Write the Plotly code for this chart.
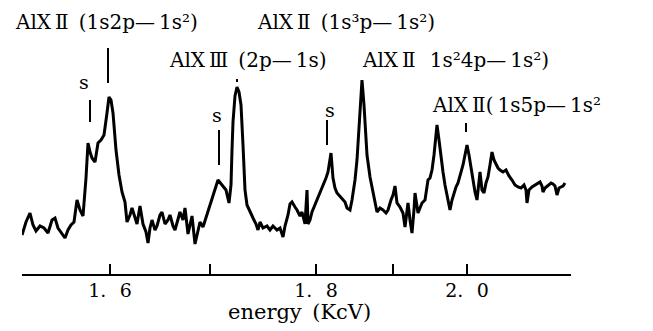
import plotly.graph_objects as go

# Spectrum: scan position (along dispersion) vs relative intensity (a.u.)
scan_pos = [22, 26, 30, 33, 36, 40, 44, 48, 52, 55, 58, 62, 65, 68, 71, 74, 77, 80, 83, 86,
            88, 90, 92, 95, 98, 101, 104, 107, 109, 111, 113, 116, 119, 122, 125, 127, 130, 132, 135, 137,
            140, 143, 146, 148, 150, 152, 155, 157, 160, 162, 165, 168, 170, 173, 175, 178, 180, 183, 185, 188,
            190, 192, 195, 198, 200, 203, 206, 210, 214, 218, 222, 226, 229, 231, 232, 233, 235, 237, 239, 241,
            243, 245, 247, 250, 253, 256, 258, 260, 263, 267, 270, 273, 277, 280, 283, 285, 288, 290, 292, 295,
            297, 300, 302, 305, 307, 308, 310, 312, 315, 318, 321, 323, 326, 328, 331, 333, 335, 337, 340, 342,
            345, 347, 350, 352, 355, 357, 359, 361, 362, 364, 365, 367, 370, 373, 375, 377, 380, 383, 386, 388,
            391, 393, 395, 397, 400, 403, 405, 407, 408, 410, 412, 414, 415, 418, 420, 422, 425, 427, 428, 430,
            432, 434, 436, 437, 439, 441, 443, 445, 447, 450, 452, 454, 456, 458, 460, 463, 465, 467, 469, 471,
            473, 475, 477, 479, 480, 482, 484, 486, 488, 490, 492, 494, 496, 498, 500, 503, 506, 509, 512, 515,
            518, 521, 524, 526, 527, 529, 532, 535, 538, 540, 542, 543, 545, 548, 551, 553, 555, 557, 559, 561,
            563, 565]
intensity = [39, 52, 61, 49, 43, 48, 46, 41, 54, 56, 46, 40, 36, 44, 49, 52, 74, 64, 58, 96,
             131, 122, 116, 112, 131, 134, 139, 161, 177, 174, 161, 124, 99, 82, 72, 52, 59, 66, 56, 50,
             68, 50, 42, 31, 46, 54, 44, 48, 59, 62, 50, 54, 59, 48, 44, 54, 62, 54, 66, 40,
             48, 58, 30, 44, 52, 47, 56, 69, 82, 94, 89, 84, 71, 89, 124, 152, 178, 187, 182, 169,
             129, 84, 69, 62, 56, 50, 44, 52, 46, 48, 44, 48, 44, 46, 37, 48, 59, 70, 72, 67,
             64, 58, 62, 50, 84, 50, 54, 62, 69, 77, 84, 88, 96, 102, 121, 96, 86, 81, 78, 76,
             72, 66, 64, 74, 94, 114, 144, 179, 194, 169, 154, 119, 97, 82, 74, 62, 66, 64, 61, 64,
             74, 79, 88, 71, 67, 61, 47, 64, 71, 54, 41, 64, 81, 61, 66, 71, 74, 86, 94, 96,
             104, 119, 136, 149, 134, 116, 102, 89, 79, 64, 74, 81, 87, 91, 98, 109, 119, 129, 119, 106,
             91, 82, 74, 94, 102, 84, 81, 91, 97, 109, 122, 114, 109, 106, 104, 102, 104, 98, 94, 89,
             87, 86, 89, 84, 71, 84, 87, 89, 91, 92, 88, 82, 86, 89, 91, 90, 88, 79, 86, 87,
             88, 91]

# Energy scale (keV) and where it falls on the scan
tick_pos = [110, 210, 316, 393, 467]
tick_text = ["1.\u2002\u20096", "", "1.\u2002\u20098", "", "2.\u2002\u20090"]

# Line-identification markers (scan position, top, bottom intensity)
id_pos = [90, 108, 219, 327, 466, 237]
id_top = [174, 226, 144, 154, 151, 195]
id_bot = [152, 191, 109, 129, 142, 192]

# Line labels (scan position of left edge, intensity level of text centre)
labels = ["AlX\u2009Ⅱ\u2002(1s2p—\u20091s²)",
          "AlX\u2009Ⅱ\u2002(1s³p—\u20091s²)",
          "AlX\u2009Ⅲ\u2002(2p—\u20091s)",
          "AlX\u2009Ⅱ\u2002\u20091s²4p—\u20091s²)",
          "AlX\u2009Ⅱ(\u20091s5p—\u20091s²"]
label_x = [13, 255, 167, 360, 430]
label_y = [252, 252, 214, 214, 169]
s_x = [84, 217, 330]
s_y = [192, 159, 164]

FONT = "DejaVu Serif"
X0, X1 = 22, 571      # scan range shown
Y0, Y1 = 0, 266       # intensity range shown


def px(x):
    return (x - X0) / (X1 - X0)


def py(y):
    return (y - Y0) / (Y1 - Y0)


fig = go.Figure()
fig.add_trace(go.Scatter(x=scan_pos, y=intensity, mode="lines",
                         line=dict(color="black", width=3), hoverinfo="skip"))

mx, my = [], []
for p, t, b in zip(id_pos, id_top, id_bot):
    mx += [p, p, None]
    my += [b, t, None]
fig.add_trace(go.Scatter(x=mx, y=my, mode="lines", line=dict(color="black", width=2),
                         hoverinfo="skip"))

ann = []
for t, x, y in zip(labels, label_x, label_y):
    ann.append(dict(x=px(x), y=py(y), xref="paper", yref="paper", text=t, showarrow=False,
                    xanchor="left", yanchor="middle",
                    font=dict(family=FONT, size=20, color="black")))
for x, y in zip(s_x, s_y):
    ann.append(dict(x=px(x), y=py(y), xref="paper", yref="paper", text="s", showarrow=False,
                    xanchor="center", yanchor="middle",
                    font=dict(family=FONT, size=19, color="black")))
ann.append(dict(x=px(299), y=py(-38), xref="paper", yref="paper", text="energy\u2002(KcV)",
                showarrow=False, xanchor="center", yanchor="middle",
                font=dict(family=FONT, size=21, color="black")))

fig.update_layout(
    width=645, height=323,
    margin=dict(l=14, r=82, t=0, b=57),
    paper_bgcolor="white", plot_bgcolor="white",
    showlegend=False,
    annotations=ann,
    xaxis=dict(range=[X0, X1], showgrid=False, zeroline=False,
               showline=True, linecolor="black", linewidth=2,
               ticks="inside", ticklen=10, tickwidth=2, tickcolor="black",
               tickmode="array", tickvals=tick_pos, ticktext=tick_text,
               tickfont=dict(family=FONT, size=19, color="black"),
               ticklabelstandoff=-2),
    yaxis=dict(range=[Y0, Y1], visible=False, showgrid=False, zeroline=False),
)

fig.write_html("out.html")
